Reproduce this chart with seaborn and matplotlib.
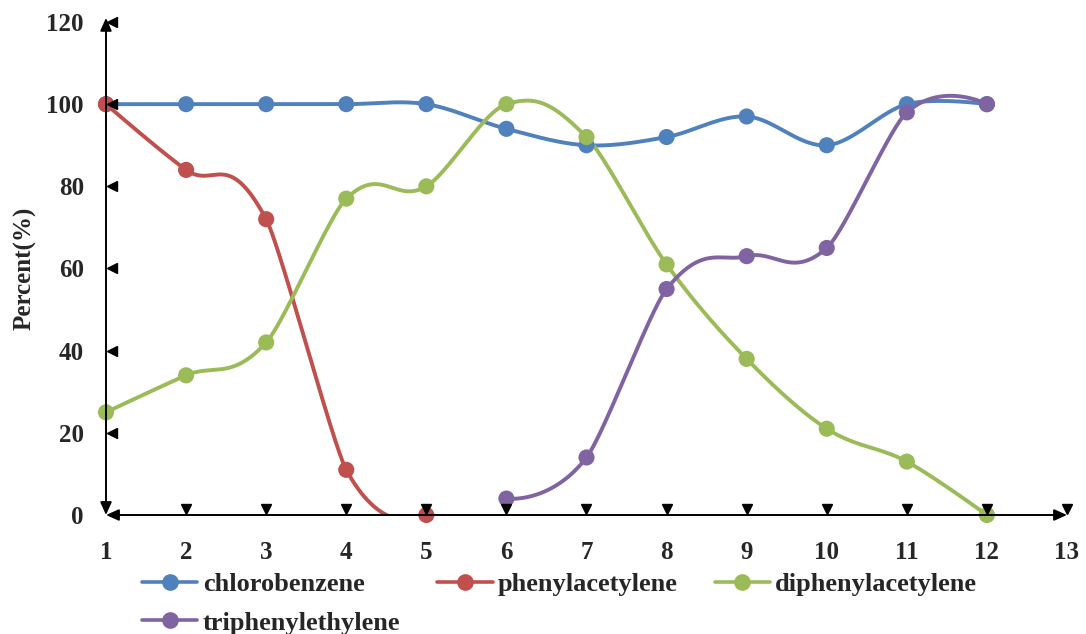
import numpy as np
import pandas as pd
import matplotlib
matplotlib.use("Agg")
import matplotlib.pyplot as plt
from matplotlib.lines import Line2D
import matplotlib.transforms as mtransforms
import seaborn as sns

# ---- data -------------------------------------------------------------
compounds = ["chlorobenzene", "phenylacetylene", "diphenylacetylene", "triphenylethylene"]
colors = ["#4F81BD", "#C0504D", "#9BBB59", "#8064A2"]

chloro_x = [1, 2, 3, 4, 5, 6, 7, 8, 9, 10, 11, 12]
chloro_y = [100, 100, 100, 100, 100, 94, 90, 92, 97, 90, 100, 100]

phenyl_x = [1, 2, 3, 4, 5]
phenyl_y = [100, 84, 72, 11, 0]

diphenyl_x = [1, 2, 3, 4, 5, 6, 7, 8, 9, 10, 11, 12]
diphenyl_y = [25, 34, 42, 77, 80, 100, 92, 61, 38, 21, 13, 0]

triphenyl_x = [6, 7, 8, 9, 10, 11, 12]
triphenyl_y = [4, 14, 55, 63, 65, 98, 100]

x_ticks = list(range(1, 14))
y_ticks = list(range(0, 121, 20))

series = {
    "chlorobenzene": (chloro_x, chloro_y),
    "phenylacetylene": (phenyl_x, phenyl_y),
    "diphenylacetylene": (diphenyl_x, diphenyl_y),
    "triphenylethylene": (triphenyl_x, triphenyl_y),
}

df = pd.concat(
    [pd.DataFrame({"run": xs, "percent": ys, "compound": name})
     for name, (xs, ys) in series.items()],
    ignore_index=True,
)

# screen scale (pixels per data unit) used to weight the spline tangents
PX_X, PX_Y = 961 / 12, 493 / 120


def smooth_curve(xs, ys, n=80):
    """Cubic Bezier path through the points; tangent lengths are weighted
    by the on-screen lengths of the neighbouring chords."""
    p = np.column_stack([xs, ys]).astype(float)
    ext = np.vstack([p[0], p, p[-1]])
    scale = np.array([PX_X, PX_Y])

    def dist(a, b):
        return float(np.hypot(*((b - a) * scale)))

    out = []
    t = np.linspace(0, 1, n)[:, None]
    for i in range(len(p) - 1):
        p0, p1, p2, p3 = ext[i], ext[i + 1], ext[i + 2], ext[i + 3]
        d01, d12, d23 = dist(p0, p1), dist(p1, p2), dist(p2, p3)
        f1 = d01 / (d01 + d12) / 3 if d01 + d12 > 0 else 0
        f2 = d23 / (d12 + d23) / 3 if d12 + d23 > 0 else 0
        c1 = p1 + (p2 - p0) * f1
        c2 = p2 - (p3 - p1) * f2
        seg = ((1 - t) ** 3) * p1 + 3 * ((1 - t) ** 2) * t * c1 \
            + 3 * (1 - t) * t ** 2 * c2 + t ** 3 * p2
        out.append(seg if i == 0 else seg[1:])
    pts = np.vstack(out)
    return pts[:, 0], pts[:, 1]


# ---- style ------------------------------------------------------------
sns.set_theme(style="white")
plt.rcParams["font.family"] = ["Liberation Serif", "DejaVu Serif"]
plt.rcParams["font.weight"] = "bold"
plt.rcParams["axes.labelweight"] = "bold"

fig = plt.figure(figsize=(10.86, 6.34), dpi=100)
ax = fig.add_axes([106 / 1086, 1 - 515 / 634, (1067 - 106) / 1086, (515 - 22) / 634])

palette = dict(zip(compounds, colors))

# smoothed connecting lines
for name, (xs, ys) in series.items():
    sx, sy = smooth_curve(xs, ys)
    ax.plot(sx, sy, color=palette[name], lw=2.8, solid_capstyle="round", zorder=2)

# markers
sns.scatterplot(data=df, x="run", y="percent", hue="compound", palette=palette,
                s=135, linewidth=0, legend=False, ax=ax, clip_on=False, zorder=3)

ax.set_xlim(1, 13)
ax.set_ylim(0, 120)
ax.set_xticks(x_ticks)
ax.set_yticks(y_ticks)
ax.tick_params(axis="both", length=0, labelsize=18)
ax.tick_params(axis="y", pad=16)
ax.tick_params(axis="x", pad=18.5)
for lab in ax.get_xticklabels() + ax.get_yticklabels():
    lab.set_fontweight("bold")
ax.set_xlabel("")
ax.set_ylabel("Percent(%)", fontsize=18, fontweight="bold")
ax.yaxis.set_label_coords(-0.072, 0.5)

for sp in ax.spines.values():
    sp.set_visible(False)

# axis lines with arrowheads on both ends
arrow = dict(arrowstyle="<|-|>,head_length=0.38,head_width=0.17", color="black",
             lw=1.4, shrinkA=0, shrinkB=0, mutation_scale=20)
ax.annotate("", xy=(13, 0), xytext=(1, 0), arrowprops=arrow,
            annotation_clip=False, zorder=5)
ax.annotate("", xy=(1, 121), xytext=(1, 0), arrowprops=arrow,
            annotation_clip=False, zorder=5)

# triangular tick marks
up = mtransforms.offset_copy(ax.transData, fig=fig, x=0, y=4, units="points")
right = mtransforms.offset_copy(ax.transData, fig=fig, x=4, y=0, units="points")
ax.plot(x_ticks[1:], [0] * (len(x_ticks) - 1), linestyle="none", marker="v",
        ms=7, color="black", transform=up, clip_on=False, zorder=6)
ax.plot([1] * (len(y_ticks) - 1), y_ticks[1:], linestyle="none", marker="<",
        ms=7, color="black", transform=right, clip_on=False, zorder=6)

# legend below the plot
handles = {name: Line2D([0], [0], color=palette[name], lw=2.6, marker="o",
                        ms=12, markeredgewidth=0) for name in compounds}
order = ["chlorobenzene", "triphenylethylene", "phenylacetylene", "diphenylacetylene"]
fig.legend([handles[n] for n in order], order, loc="upper left",
           bbox_to_anchor=(142 / 1086, 1 - 573 / 634), bbox_transform=fig.transFigure,
           ncol=3, frameon=False, borderpad=0, borderaxespad=0,
           prop={"family": "Liberation Serif", "weight": "bold", "size": 19},
           handlelength=2.1, handletextpad=0.2, columnspacing=1.4, labelspacing=0.56)

fig.savefig("out.png", dpi=100, facecolor="white")
